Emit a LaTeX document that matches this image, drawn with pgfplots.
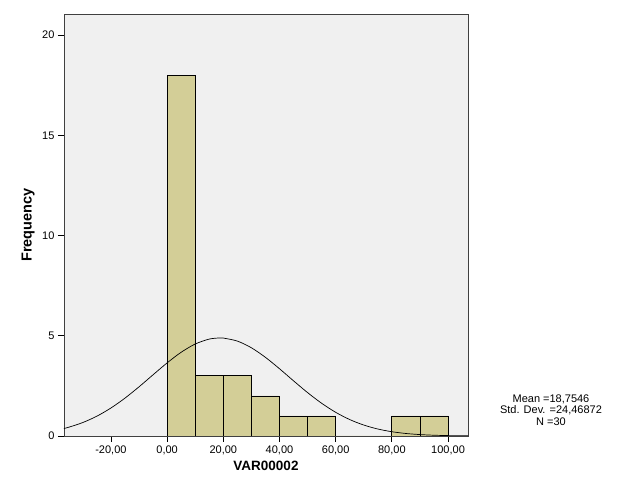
\documentclass[border=0pt]{standalone}
\usepackage{pgfplots}
\pgfplotsset{compat=1.18}
\usepackage{fontspec}
\setmainfont{Liberation Sans}
\definecolor{bgc}{RGB}{240,240,240}
\definecolor{barc}{RGB}{211,206,151}
\begin{document}
\begin{tikzpicture}
\path[use as bounding box] (-64pt,-64pt) rectangle (561pt,436pt);
\begin{axis}[
  anchor=south west, at={(0pt,0pt)},
  scale only axis, width=404pt, height=422pt,
  xmin=-36.7, xmax=107.1, ymin=0, ymax=21.05,
  axis background/.style={fill=bgc},
  axis line style={black!75, line width=0.8pt},
  xtick={-20,0,20,40,60,80,100},
  ytick={0,5,10,15,20},
  tick align=outside, tick pos=left,
  major tick length=6pt,
  tick style={black, line width=0.8pt},
  /pgf/number format/assume math mode=true,
  xticklabel style={/pgf/number format/.cd, fixed, fixed zerofill, precision=2, use comma, 1000 sep={}},
  yticklabel style={/pgf/number format/.cd, fixed, precision=0},
  ticklabel style={font=\fontsize{11}{12}\selectfont},
  xlabel={\textbf{VAR00002}},
  ylabel={\textbf{Frequency}},
  xlabel style={font=\fontsize{13.5}{15}\selectfont, at={(axis description cs:0.5,0)}, anchor=north, yshift=-22pt},
  ylabel style={font=\fontsize{14.5}{16}\selectfont, at={(axis description cs:-0.089,0.5)}, anchor=center, rotate=0},
  clip=true,
]
\addplot[ybar interval, fill=barc, draw=black, line width=0.8pt] coordinates {
(0,18) (10,3) (20,3) (30,2) (40,1) (50,1) (60,0) (70,0) (80,1) (90,1) (100,1)
};
\addplot[black, line width=0.7pt, smooth] coordinates {
(-37,0.3648) (-35,0.4379) (-30,0.6719) (-25,0.9886) (-20,1.3953) (-15,1.8888)
(-10,2.4522) (-5,3.0534) (0,3.6462) (5,4.1765) (10,4.5880) (15,4.8341)
(18.75,4.8913) (20,4.8849) (25,4.7346) (30,4.4011) (35,3.9238) (40,3.3553)
(45,2.7517) (50,2.1644) (55,1.6329) (60,1.1815) (65,0.8199) (70,0.5457)
(75,0.3484) (80,0.2133) (85,0.1253) (90,0.0706) (95,0.0381) (100,0.0198)
(105,0.0098) (107.1,0.0073)
};
\end{axis}
\node[align=center, font=\fontsize{11}{11.5}\selectfont, anchor=center] at (487pt,26pt) {Mean =18,7546\\Std. Dev. =24,46872\\N =30};
\end{tikzpicture}
\end{document}
